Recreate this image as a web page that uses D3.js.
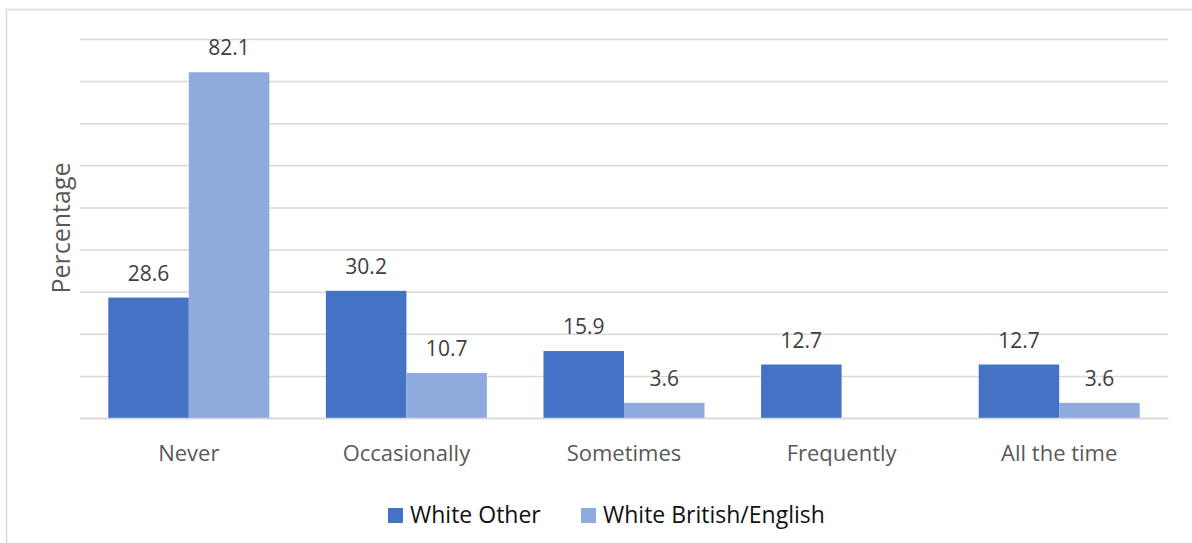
<!DOCTYPE html>
<html><head><meta charset="utf-8">
<script src="https://cdn.jsdelivr.net/npm/d3@7"></script>
<style>html,body{margin:0;padding:0;background:#fff;}svg{display:block;}</style>
</head><body>
<svg id="chart" width="1192" height="543"></svg>
<script>
const categories = ["Never", "Occasionally", "Sometimes", "Frequently", "All the time"];
const seriesNames = ["White Other", "White British/English"];
const whiteOther = [28.6, 30.2, 15.9, 12.7, 12.7];
const whiteBritish = [82.1, 10.7, 3.6, null, 3.6];
const yTicks = [0, 10, 20, 30, 40, 50, 60, 70, 80, 90];
const colors = ["#4472C4", "#8FAADC"];

(function () {
const svg = d3.select("#chart");
const font = "'Open Sans', sans-serif";
svg.append("rect").attr("x", 6.5).attr("y", 9.5).attr("width", 1200).attr("height", 600)
  .attr("fill", "#fff").attr("stroke", "#D9D9D9").attr("stroke-width", 1.5);

const pLeft = 80, pRight = 1168, pTop = 39, pBottom = 418;
const x0 = d3.scaleBand().domain(categories).range([pLeft, pRight]).paddingInner(0.26).paddingOuter(0.13);
const x1 = d3.scaleBand().domain(seriesNames).range([0, x0.bandwidth()]);
const y = d3.scaleLinear().domain([0, 90]).range([pBottom, pTop]);

const yAxis = d3.axisLeft(y).tickValues(yTicks).tickSize(-(pRight - pLeft)).tickFormat("");
const gy = svg.append("g").attr("transform", `translate(${pLeft},0)`).call(yAxis);
gy.select(".domain").remove();
gy.selectAll(".tick line").attr("stroke", "#D9D9D9").attr("stroke-width", 1.5);

const data = categories.map((c, i) => ({cat: c, vals: [whiteOther[i], whiteBritish[i]]}));
const groups = svg.append("g").selectAll("g").data(data).join("g")
  .attr("transform", d => `translate(${x0(d.cat)},0)`);
const cells = groups.selectAll("g").data(d => d.vals.map((v, j) => ({name: seriesNames[j], v, j})).filter(e => e.v != null))
  .join("g");
cells.append("rect")
  .attr("x", d => x1(d.name)).attr("width", x1.bandwidth())
  .attr("y", d => y(d.v)).attr("height", d => y(0) - y(d.v))
  .attr("fill", d => colors[d.j]);
cells.append("text")
  .attr("x", d => x1(d.name) + x1.bandwidth() / 2)
  .attr("y", d => y(d.v) - 17)
  .attr("text-anchor", "middle").attr("font-family", font).attr("font-size", 21)
  .attr("fill", "#404040").text(d => d.v.toFixed(1));

const xAxis = d3.axisBottom(x0).tickSize(0).tickPadding(0);
const gx = svg.append("g").attr("transform", `translate(0,${pBottom})`).call(xAxis);
gx.select(".domain").attr("stroke", "#D9D9D9").attr("stroke-width", 1.5);
gx.selectAll(".tick text").attr("font-family", font).attr("font-size", 22)
  .attr("fill", "#595959").attr("dy", null).attr("y", 43);

svg.append("text").attr("transform", "translate(70,228) rotate(-90)")
  .attr("text-anchor", "middle").attr("font-family", font).attr("font-size", 25)
  .attr("fill", "#595959").text("Percentage");

const legendX = [388, 581];
const lg = svg.append("g").selectAll("g").data(seriesNames).join("g")
  .attr("transform", (d, i) => `translate(${legendX[i]},508)`);
lg.append("rect").attr("width", 15).attr("height", 15).attr("fill", (d, i) => colors[i]);
lg.append("text").attr("x", 22).attr("y", 15).attr("font-family", font).attr("font-size", 23)
  .attr("fill", "#111").text(d => d);
})();
</script>
</body></html>
